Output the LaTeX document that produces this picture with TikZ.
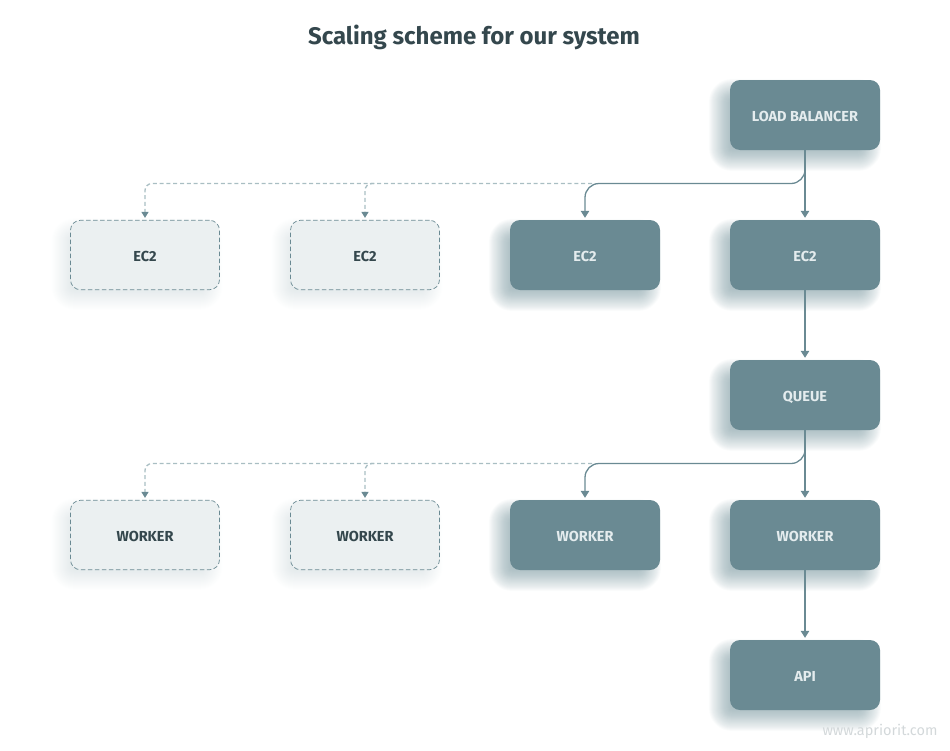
\documentclass[tikz,border=0pt]{standalone}
\usepackage{fontspec}
\setmainfont{Fira Sans}
\usetikzlibrary{arrows.meta,backgrounds,calc}
\definecolor{teal1}{HTML}{6A8A93}
\definecolor{lighttxt}{HTML}{E4ECEE}
\definecolor{darktxt}{HTML}{34474D}
\definecolor{ghostfill}{HTML}{EBF0F1}
\definecolor{ghostline}{HTML}{A9BEC3}
\definecolor{shadowc}{HTML}{5F838C}
\definecolor{wmark}{HTML}{D3D8DA}
\tikzset{
  x=1pt,y=-1pt,
  box/.style={minimum width=150pt,minimum height=70pt,rounded corners=10pt,inner sep=0pt,
    text height=13pt,text depth=0pt,font=\fontsize{14.5}{16}\selectfont\bfseries},
  solidbox/.style={box,fill=teal1,text=lighttxt},
  ghostbox/.style={box,fill=ghostfill,draw=teal1,line width=0.7pt,dash pattern=on 4.5pt off 2.5pt,text=darktxt,
    minimum width=149pt,minimum height=69.5pt},
  flowlink/.style={draw=teal1,line width=1.3pt,-{Triangle[length=7pt,width=8.5pt]},shorten >=2pt},
  ghostlink/.style={draw=ghostline,line width=1.3pt,dash pattern=on 4pt off 2.8pt,rounded corners=7pt,shorten >=2pt,
    -{Triangle[length=6pt,width=7pt,color=teal1]}},
  curvedlink/.style={flowlink,rounded corners=14pt},
}
% soft shadow: #1 node name, #2 opacity of each layer, #3 x offset, #4 y offset
\newcommand{\softshadow}[4]{%
  \foreach \k in {11,10.5,...,-11}{%
    \pgfmathsetmacro{\rad}{max(2,12+\k)}%
    \fill[shadowc,fill opacity=#2,rounded corners=\rad pt]
      ($(#1.north west)+(#3-\k,#4-\k)$) rectangle ($(#1.south east)+(#3+\k,#4+\k)$);
  }%
}
\begin{document}
\begin{tikzpicture}
\useasboundingbox (0,0) rectangle (950,750);
% nodes
\node[font=\fontsize{24}{28}\selectfont\bfseries,text=darktxt] (title) at (474,37.5) {Scaling scheme for our system};
\node[solidbox] (lb) at (805,115) {LOAD BALANCER};
\node[ghostbox] (ea) at (145,255) {EC2};
\node[ghostbox] (eb) at (365,255) {EC2};
\node[solidbox] (ec) at (585,255) {EC2};
\node[solidbox] (ed) at (805,255) {EC2};
\node[solidbox] (queue) at (805,395) {QUEUE};
\node[ghostbox] (wa) at (145,535) {WORKER};
\node[ghostbox] (wb) at (365,535) {WORKER};
\node[solidbox] (wc) at (585,535) {WORKER};
\node[solidbox] (wd) at (805,535) {WORKER};
\node[solidbox] (api) at (805,675) {API};
\node[font=\fontsize{14.5}{16}\selectfont,text=wmark,anchor=east] (wm) at (941,731) {www.apriorit.com};
% shadows
\begin{scope}[on background layer]
\foreach \n in {lb,ec,ed,queue,wc,wd,api}{\softshadow{\n}{0.014}{-10}{10}}
\foreach \n in {ea,eb,wa,wb}{\softshadow{\n}{0.003}{-8}{9}}
\end{scope}
% bus coordinates
\coordinate (busa) at (592,183.5);
\coordinate (busb) at (592,463.5);
\coordinate (taila) at (374,183.5);
\coordinate (tailb) at (374,463.5);
% dashed branches
\draw[ghostlink] (busa) -- (ea.north |- busa) -- (ea.north);
\draw[ghostlink] (taila) -- (eb.north |- taila) -- (eb.north);
\draw[ghostlink] (busb) -- (wa.north |- busb) -- (wa.north);
\draw[ghostlink] (tailb) -- (wb.north |- tailb) -- (wb.north);
% solid connectors
\draw[curvedlink] (lb.south) -- (lb.south |- busa) -- (ec.north |- busa) -- (ec.north);
\draw[flowlink] (lb) -- (ed);
\draw[flowlink] (ed) -- (queue);
\draw[curvedlink] (queue.south) -- (queue.south |- busb) -- (wc.north |- busb) -- (wc.north);
\draw[flowlink] (queue) -- (wd);
\draw[flowlink] (wd) -- (api);
\end{tikzpicture}
\end{document}
